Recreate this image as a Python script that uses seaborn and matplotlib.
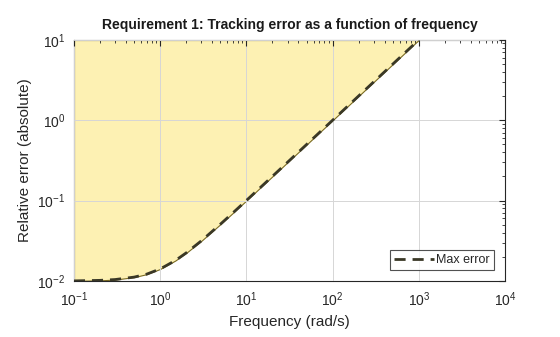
import numpy as np
import pandas as pd
import seaborn as sns
import matplotlib.pyplot as plt

sns.set_style("white")
plt.rcParams['font.family'] = ['Liberation Sans', 'DejaVu Sans']
plt.rcParams['axes.unicode_minus'] = False

# values
freq = [0.1, 0.2, 0.3, 0.5, 0.7, 1.0, 1.5, 2.0, 3.0, 5.0, 7.0, 10.0, 20.0, 50.0, 100.0, 300.0, 1000.0]
max_err = [0.01005, 0.0102, 0.01044, 0.0112, 0.0122, 0.01414, 0.018, 0.02236, 0.0316, 0.051, 0.0707,
           0.1005, 0.2002, 0.5001, 1.0, 3.0, 10.0]

df = pd.DataFrame({"Frequency": freq, "Error": max_err})

fig, ax = plt.subplots(figsize=(5.6, 3.37), dpi=100)
fig.subplots_adjust(left=0.132, right=0.902, top=0.882, bottom=0.166)

ax.fill_between(df["Frequency"], df["Error"], 10, facecolor="#fdf1b3",
                edgecolor="#7a6a20", linewidth=0.8, zorder=1)
sns.lineplot(data=df, x="Frequency", y="Error", ax=ax, color="#3a3826",
             linewidth=2, linestyle=(0, (4, 2.5)), label="Max error", zorder=3)

ax.set_xscale("log")
ax.set_yscale("log")
ax.set_xlim(0.1, 1e4)
ax.set_ylim(0.01, 10)
ax.grid(True, which="major", color="#d6d6d6", linewidth=0.7, zorder=2)
ax.set_axisbelow(False)
ax.tick_params(which="both", direction="in", top=True, right=True, labelsize=10, colors="#262626")
ax.tick_params(which="major", length=4)
ax.tick_params(which="minor", length=2)
ax.tick_params(axis="x", which="major", pad=7)
ax.tick_params(axis="y", which="major", pad=6)
for s in ax.spines.values():
    s.set_color("#262626")
    s.set_linewidth(0.8)

ax.set_title("Requirement 1: Tracking error as a function of frequency",
             fontsize=10, fontweight="bold", color="#1a1a1a", pad=8)
ax.set_xlabel("Frequency (rad/s)", fontsize=11, color="#262626", labelpad=4)
ax.set_ylabel("Relative error (absolute)", fontsize=11, color="#262626", labelpad=4)

leg = ax.legend(loc="lower right", fontsize=9, frameon=True, fancybox=False,
                handlelength=3.2, borderpad=0.3, handletextpad=0.2,
                borderaxespad=0.9)
leg.get_frame().set_edgecolor("#262626")
leg.get_frame().set_linewidth(0.8)

fig.savefig("out.png", dpi=100)
